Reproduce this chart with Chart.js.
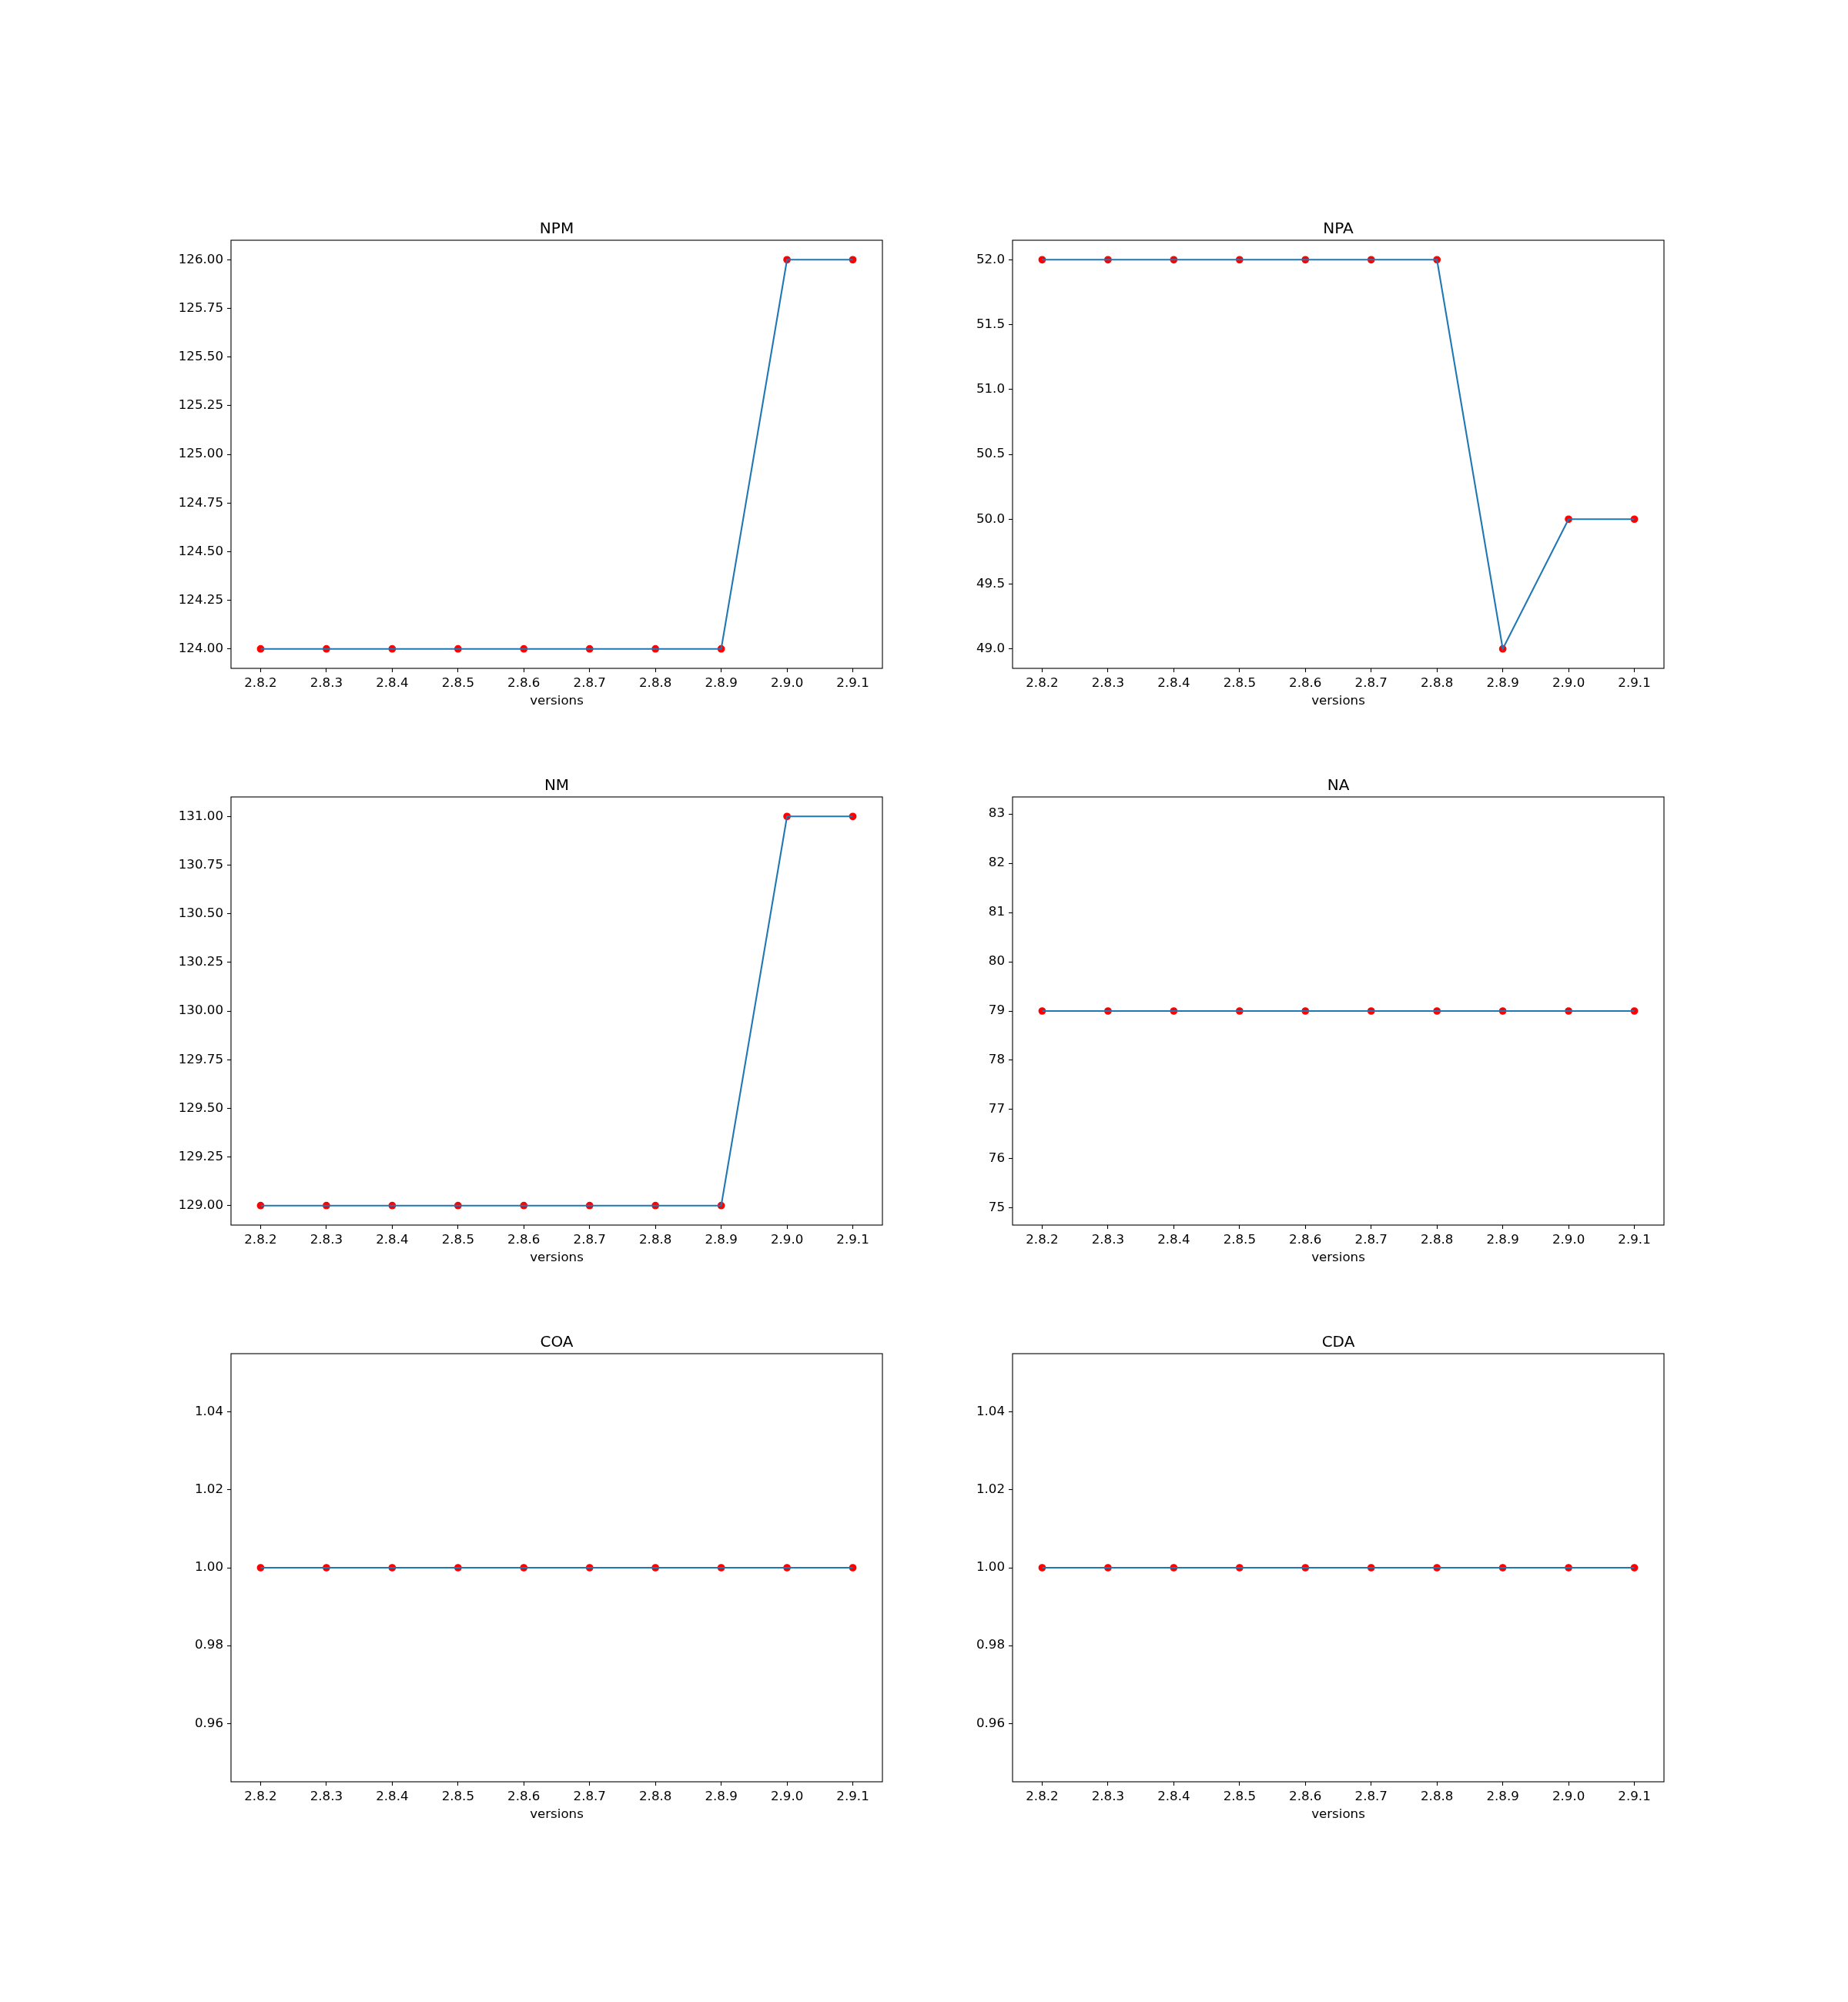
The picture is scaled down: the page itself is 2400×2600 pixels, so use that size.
<!DOCTYPE html>
<html>
<head>
<meta charset="utf-8">
<script src="https://cdn.jsdelivr.net/npm/chart.js@4/dist/chart.umd.min.js"></script>
<style>
  html, body { margin: 0; padding: 0; background: #ffffff; }
  #fig { position: relative; width: 2400px; height: 2600px; background: #ffffff; }
  canvas { position: absolute; }
</style>
</head>
<body>
<div id="fig"></div>
<script>
// ---------------- data ----------------
const versions = ['2.8.2', '2.8.3', '2.8.4', '2.8.5', '2.8.6', '2.8.7', '2.8.8', '2.8.9', '2.9.0', '2.9.1'];

const npmValues = [124, 124, 124, 124, 124, 124, 124, 124, 126, 126];
const npaValues = [52, 52, 52, 52, 52, 52, 52, 49, 50, 50];
const nmValues  = [129, 129, 129, 129, 129, 129, 129, 129, 131, 131];
const naValues  = [79, 79, 79, 79, 79, 79, 79, 79, 79, 79];
const coaValues = [1, 1, 1, 1, 1, 1, 1, 1, 1, 1];
const cdaValues = [1, 1, 1, 1, 1, 1, 1, 1, 1, 1];

const npmTicks = [124.00, 124.25, 124.50, 124.75, 125.00, 125.25, 125.50, 125.75, 126.00];
const npaTicks = [49.0, 49.5, 50.0, 50.5, 51.0, 51.5, 52.0];
const nmTicks  = [129.00, 129.25, 129.50, 129.75, 130.00, 130.25, 130.50, 130.75, 131.00];
const naTicks  = [75, 76, 77, 78, 79, 80, 81, 82, 83];
const coaTicks = [0.96, 0.98, 1.00, 1.02, 1.04];
const cdaTicks = [0.96, 0.98, 1.00, 1.02, 1.04];

const titles = ['NPM', 'NPA', 'NM', 'NA', 'COA', 'CDA'];
const xLabel = 'versions';

// ---------------- layout (matplotlib-like subplot grid) ----------------
const AX_LEFTS = [300, 1314.5];
const AX_W = 845.5;
const AX_TOPS = [312, 1034.95, 1757.9];
const AX_H = 556.1;
const PAD_L = 120, PAD_T = 50, PAD_R = 40, PAD_B = 70;

const LINE_COLOR = '#1f77b4';
const MARK_COLOR = '#ff0000';
const FONT = 'DejaVu Sans';
const TICK_PX = 16.67;
const TITLE_PX = 20;

Chart.defaults.font.family = FONT;
Chart.defaults.color = '#000000';

function yLimits(vals) {
  let lo = Math.min(...vals), hi = Math.max(...vals);
  if (lo === hi) { const d = Math.abs(lo) * 0.05 || 1; lo -= d; hi += d; }
  const m = (hi - lo) * 0.05;
  return [lo - m, hi + m];
}

const framePlugin = {
  id: 'frame',
  afterDraw(chart) {
    const a = chart.chartArea, ctx = chart.ctx;
    ctx.save();
    ctx.strokeStyle = '#000000';
    ctx.lineWidth = 1.1;
    ctx.strokeRect(a.left, a.top, a.right - a.left, a.bottom - a.top);
    ctx.restore();
  }
};

const panels = [
  { title: titles[0], values: npmValues, ticks: npmTicks, dec: 2 },
  { title: titles[1], values: npaValues, ticks: npaTicks, dec: 1 },
  { title: titles[2], values: nmValues,  ticks: nmTicks,  dec: 2 },
  { title: titles[3], values: naValues,  ticks: naTicks,  dec: 0 },
  { title: titles[4], values: coaValues, ticks: coaTicks, dec: 2 },
  { title: titles[5], values: cdaValues, ticks: cdaTicks, dec: 2 },
];

const fig = document.getElementById('fig');

panels.forEach((p, i) => {
  const col = i % 2, row = Math.floor(i / 2);
  const cv = document.createElement('canvas');
  const w = Math.round(AX_W + PAD_L + PAD_R);
  const h = Math.round(AX_H + PAD_T + PAD_B);
  cv.width = w; cv.height = h;
  cv.style.width = w + 'px'; cv.style.height = h + 'px';
  cv.style.left = (AX_LEFTS[col] - PAD_L) + 'px';
  cv.style.top = (AX_TOPS[row] - PAD_T) + 'px';
  fig.appendChild(cv);

  const pts = p.values.map((v, k) => ({ x: k, y: v }));
  const [ymin, ymax] = yLimits(p.values);
  const titlePadB = 4;
  const titleBox = TITLE_PX + titlePadB;

  new Chart(cv.getContext('2d'), {
    type: 'line',
    data: {
      datasets: [
        { data: pts, borderColor: LINE_COLOR, borderWidth: 2.08, pointRadius: 0, fill: false, tension: 0, order: 0 },
        { data: pts, showLine: false, pointRadius: 4.17, pointBorderWidth: 1.39,
          pointBackgroundColor: MARK_COLOR, pointBorderColor: MARK_COLOR, order: 1 }
      ]
    },
    plugins: [framePlugin],
    options: {
      responsive: false,
      devicePixelRatio: 1,
      animation: false,
      events: [],
      layout: { padding: { left: 0, right: PAD_R, top: PAD_T - titleBox, bottom: 0 } },
      plugins: {
        legend: { display: false },
        tooltip: { enabled: false },
        title: {
          display: true, text: p.title, color: '#000000', fullSize: false,
          font: { family: FONT, size: TITLE_PX, weight: 'normal', lineHeight: 1 },
          padding: { top: 0, bottom: titlePadB }
        }
      },
      scales: {
        x: {
          type: 'linear', min: -0.45, max: versions.length - 1 + 0.45,
          afterFit(s) { s.height = PAD_B; },
          afterBuildTicks(s) { s.ticks = versions.map((_, k) => ({ value: k })); },
          border: { display: false },
          grid: { display: true, drawOnChartArea: false, drawTicks: true, tickLength: 5, tickColor: '#000000', tickWidth: 1.1 },
          ticks: {
            autoSkip: false, maxRotation: 0, minRotation: 0, padding: 4.5,
            font: { family: FONT, size: TICK_PX }, color: '#000000',
            callback: (v) => versions[Math.round(v)] ?? ''
          },
          title: {
            display: true, text: xLabel, color: '#000000',
            font: { family: FONT, size: TICK_PX, lineHeight: 1.2 },
            padding: { top: 0, bottom: 17 }
          }
        },
        y: {
          type: 'linear', min: ymin, max: ymax,
          afterFit(s) { s.width = PAD_L; },
          afterBuildTicks(s) { s.ticks = p.ticks.map(v => ({ value: v })); },
          border: { display: false },
          grid: { display: true, drawOnChartArea: false, drawTicks: true, tickLength: 5, tickColor: '#000000', tickWidth: 1.1 },
          ticks: {
            padding: 5, font: { family: FONT, size: TICK_PX }, color: '#000000',
            callback: (v) => Number(v).toFixed(p.dec)
          }
        }
      }
    }
  });
});
</script>
</body>
</html>
